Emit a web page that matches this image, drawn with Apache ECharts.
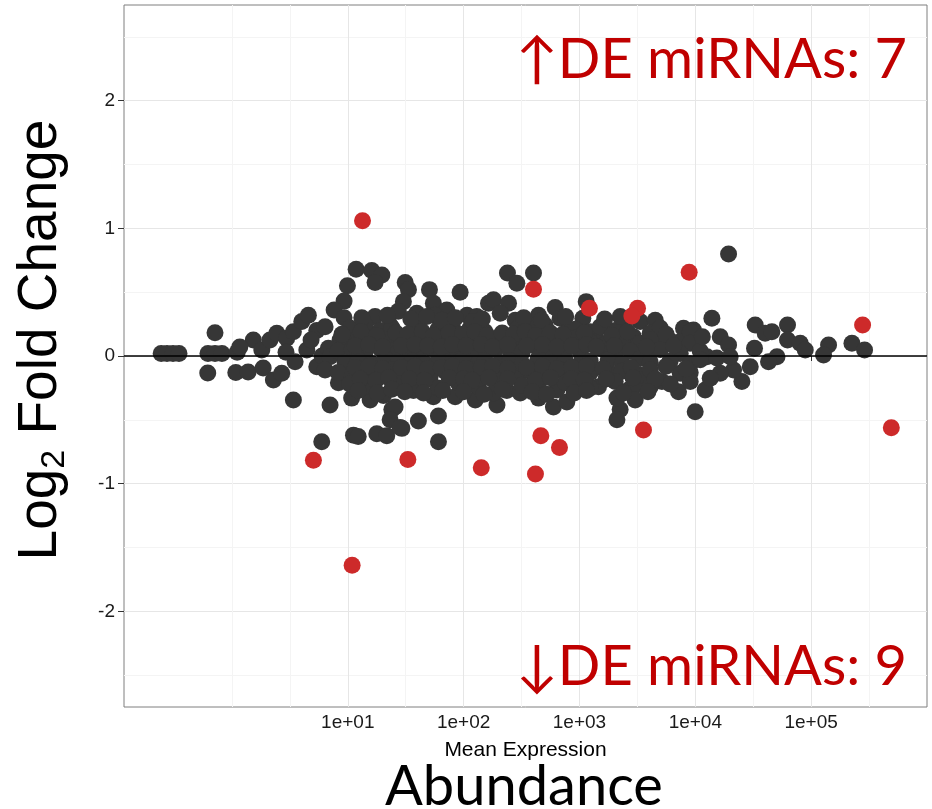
<!DOCTYPE html>
<html><head><meta charset="utf-8">
<script src="https://cdn.jsdelivr.net/npm/echarts@6/dist/echarts.min.js"></script>
<style>html,body{margin:0;padding:0;background:#fff}#c{width:932px;height:809px}</style>
</head><body><div id="c"></div>
<script>
// tick values
const xTicks = [10, 100, 1000, 10000, 100000];
const xMinorTicks = [1, 3.1623, 31.623, 316.23, 3162.3, 31623, 316228];
const yTicks = [-2, -1, 0, 1, 2];
const yMinorTicks = [-2.5, -1.5, -0.5, 0.5, 1.5, 2.5];

// [mean expression, log2 fold change] - non-significant miRNAs
const greyPoints = [
 [0.245,0.02],[0.275,0.02],[0.31,0.02],[0.349,0.02],
 [0.621,0.02],[0.714,0.02],[0.82,0.02],[1.11,0.03],
 [0.714,0.183],[0.618,-0.133],[1.08,-0.13],[1.38,-0.125],
 [1.53,0.125],[1.17,0.07],[1.81,0.047],[1.86,-0.094],[2.28,-0.188],[2.69,-0.136],
 [2.13,0.125],[2.44,0.178],[2.97,0.14],[3.39,0.19],[4.01,0.27],[4.57,0.32],[5.4,0.2],
 [3.51,-0.045],[4.43,0.047],[5.4,-0.084],[3.39,-0.345],[7.03,-0.384],[5.96,-0.672],
 [2.93,0.03],[4.82,0.125],[6.0,0.0],
 [11.8,0.68],[16.1,0.67],[19.7,0.635],[17.2,0.575],[9.93,0.55],[31.3,0.575],[33.4,0.52],[50.7,0.52],[93.3,0.5],[239,0.65],[288,0.57],
 [9.29,0.43],[7.62,0.36],[9.29,0.3],[30.2,0.426],[27.3,0.35],[39.4,0.335],[54.8,0.413],[71.6,0.36],[56.7,0.32],[107,0.32],[130,0.31],[164,0.413],[181,0.44],[244,0.413],[207,0.335],[279,0.28],[14.6,0.28],[17.2,0.31],[6.37,0.23],[23.2,0.24],[11.2,0.18],[8.58,0.125],[6.8,0.06],[7.03,-0.005],
 [6.37,-0.11],[8.3,-0.21],[10.8,-0.33],[15.6,-0.345],[20.3,-0.31],[24.0,-0.42],[25.6,-0.4],[23.2,-0.5],[29.3,-0.567],[40.7,-0.51],[60.6,-0.47],[36.9,-0.27],[54.8,-0.32],[84.5,-0.32],[126,-0.345],[194,-0.384],[181,-0.29],[236,-0.27],
 [11.2,-0.62],[12.3,-0.63],[17.8,-0.61],[21.7,-0.625],[28.3,-0.56],[60.6,-0.672],
 [401,0.65],[617,0.38],[1143,0.426],[1069,0.296],[443,0.32],[375,0.24],[681,0.296],[804,0.204],[1237,0.19],[1367,0.165],[1726,0.1],[2106,0.047],[2483,0.28],[3344,0.27],[4508,0.28],[4077,0.178],[5148,0.1],[2926,0.15],[2833,0.06],[7907,0.217],[7413,0.112],[9638,0.204],
 [288,-0.16],[308,-0.29],[443,-0.214],[443,-0.33],[638,-0.267],[596,-0.4],[778,-0.36],[980,-0.214],[1459,-0.24],[1841,-0.136],[2244,-0.42],[2106,-0.33],[2106,-0.5],[2649,-0.267],[3133,-0.227],[3027,-0.345],[5148,-0.2],[7413,-0.136],[7161,-0.28],[9977,-0.437],[12170,-0.267],
 [19360,0.8],[13900,0.296],[16410,0.15],[19360,0.086],[32890,0.243],[40090,0.178],[45810,0.19],[62520,0.243],[62520,0.125],[80500,0.1],[88900,0.047],[141300,0.086],[127900,0.008],[225000,0.1],[289000,0.047],[32430,0.06],[50700,-0.005],[42850,-0.045],[29800,-0.084],[25240,-0.2],[21380,-0.11],[16410,-0.136],[13450,-0.175],[12590,-0.005],[15350,-0.016],[20000,-0.005],
 [10.4,0.22],[14.1,0.24],[19.0,0.20],[24.1,0.22],[40.5,0.25],[60.2,0.21],[79.6,0.24],[114,0.22],[153,0.19],[296,0.22],[506,0.24],[918,0.21],[1510,0.23],[2033,0.20],[4977,0.22],[9036,0.19],
 [9.48,0.12],[12.3,0.14],[16.2,0.11],[21.0,0.13],[27.2,0.15],[35.9,0.12],[46.5,0.14],[60.2,0.11],[69.2,0.15],[89.6,0.12],[114,0.13],[133,0.16],[169,0.12],[228,0.14],[296,0.11],[375,0.13],[506,0.15],[681,0.12],[918,0.14],[1237,0.11],[2337,0.12],[3342,0.10],[4080,0.13],[6070,0.12],[9036,0.10],
 [8.25,0.04],[10.9,0.05],[14.1,0.03],[19.0,0.06],[24.1,0.04],[31.3,0.05],[40.5,0.02],[51.4,0.06],[69.2,0.04],[89.6,0.03],[114,0.06],[133,0.02],[187,0.05],[252,0.04],[320,0.03],[440,0.06],[581,0.02],[753,0.05],[1014,0.03],[1510,0.06],[1770,0.02],[2741,0.04],[4080,0.03],[4977,0.05],[7410,0.02],[11020,0.04],
 [9.48,-0.05],[12.3,-0.03],[16.2,-0.06],[21.0,-0.02],[27.2,-0.05],[35.9,-0.04],[46.5,-0.06],[60.2,-0.03],[79.6,-0.05],[100,-0.02],[133,-0.06],[153,-0.03],[207,-0.05],[252,-0.04],[320,-0.06],[440,-0.02],[581,-0.05],[753,-0.03],[1014,-0.06],[1237,-0.04],[1770,-0.03],[2337,-0.06],[3342,-0.02],[4080,-0.05],[6070,-0.04],[9036,-0.06],[11020,-0.03],
 [8.25,-0.13],[10.9,-0.15],[14.1,-0.12],[19.0,-0.14],[24.1,-0.11],[31.3,-0.15],[40.5,-0.13],[51.4,-0.16],[69.2,-0.12],[89.6,-0.14],[114,-0.11],[153,-0.15],[187,-0.13],[375,-0.12],[506,-0.14],[681,-0.11],[918,-0.15],[1237,-0.13],[2337,-0.12],[3342,-0.15],[4080,-0.11],[9036,-0.13],
 [10.4,-0.22],[14.1,-0.24],[27.2,-0.20],[40.5,-0.23],[60.2,-0.25],[89.6,-0.21],[133,-0.24],[207,-0.19],[320,-0.23],[753,-0.21],[1237,-0.25],[2033,-0.20],[4080,-0.24],[6070,-0.22],[9036,-0.20],
 [13.2,0.30],[22,0.32],[35,0.29],[48,0.31],[65,0.28],[85,0.30],[120,0.27],[145,0.29],[330,0.30],[470,0.28],[760,0.31],[1650,0.29],[2250,0.31],
 [8.9,0.17],[13,0.19],[17.8,0.16],[26,0.18],[33,0.17],[44,0.19],[55,0.16],[75,0.18],[98,0.17],[125,0.19],[160,0.16],[215,0.18],[270,0.17],[340,0.19],[420,0.16],[560,0.18],[720,0.17],[1100,0.18],[1900,0.16],[2600,0.19],[5600,0.17],[11500,0.15],
 [11.6,0.08],[15.2,0.09],[20,0.07],[29,0.08],[38,0.09],[49,0.08],[64,0.07],[80,0.09],[105,0.08],[142,0.09],[178,0.07],[240,0.09],[350,0.08],[480,0.09],[640,0.07],[860,0.08],[1150,0.09],[1400,0.07],[2000,0.08],[3800,0.07],[6500,0.08],
 [11.6,-0.09],[15.2,-0.08],[20,-0.10],[29,-0.09],[38,-0.08],[49,-0.10],[64,-0.09],[80,-0.08],[105,-0.10],[142,-0.09],[178,-0.08],[240,-0.10],[350,-0.09],[480,-0.08],[640,-0.10],[860,-0.09],[1150,-0.08],[1600,-0.10],[2800,-0.09],[5600,-0.08],[8300,-0.10],
 [12.8,-0.18],[17.5,-0.19],[22.5,-0.17],[34,-0.18],[46,-0.19],[75,-0.17],[100,-0.18],[118,-0.19],[165,-0.17],[240,-0.18],[420,-0.19],[560,-0.17],[850,-0.18],[1100,-0.19],[1700,-0.18],[2900,-0.17],[4500,-0.18],
 [12.3,-0.27],[18,-0.29],[24,-0.26],[31,-0.28],[45,-0.29],[66,-0.27],[100,-0.28],[150,-0.30],[215,-0.26],[390,-0.28],[520,-0.30],[900,-0.29],[1150,-0.27],[2400,-0.29],[3900,-0.28]
];

// significant up / down
const upPoints = [[13.4,1.06],[401,0.523],[1219,0.374],[3170,0.374],[2833,0.314],[8850,0.656],[278000,0.243]];
const downPoints = [[5.05,-0.816],[10.9,-1.64],[33,-0.81],[142,-0.876],[464,-0.625],[672,-0.716],[417,-0.925],[3570,-0.58],[492000,-0.562]];

const upLabel = '\u2191DE miRNAs: 7';
const downLabel = '\u2193DE miRNAs: 9';
const xTitle = 'Mean Expression';
const bigXTitle = 'Abundance';

const chart = echarts.init(document.getElementById('c'), null, {renderer: 'canvas'});
const fmtX = v => '1e+' + String(Math.round(Math.log10(v))).padStart(2, '0');
const GRID = {left: 124, right: 5, top: 5, bottom: 102};
const option = {
  animation: false,
  backgroundColor: '#ffffff',
  grid: Object.assign({show: true, borderColor: '#7f7f7f', borderWidth: 1, backgroundColor: 'rgba(0,0,0,0)'}, GRID),
  xAxis: [
    {type: 'log', logBase: 10, min: 0.117, max: 1e6, gridIndex: 0,
     axisLine: {show: false},
     axisTick: {show: true, customValues: xTicks, length: 5, lineStyle: {color: '#333', width: 1}},
     axisLabel: {show: true, customValues: xTicks, formatter: fmtX, fontSize: 19, color: '#1a1a1a', fontFamily: 'Liberation Sans', margin: 6},
     splitLine: {show: true, lineStyle: {color: '#e6e6e6', width: 1}},
     name: xTitle, nameLocation: 'middle', nameGap: 33,
     nameTextStyle: {fontSize: 21, color: '#000', fontFamily: 'Liberation Sans'}},
    {type: 'log', logBase: 10, min: 0.117, max: 1e6, gridIndex: 0,
     axisLine: {show: false}, axisTick: {show: false, customValues: xMinorTicks},
     axisLabel: {show: false, customValues: xMinorTicks},
     splitLine: {show: true, lineStyle: {color: '#f4f4f4', width: 1}}}
  ],
  yAxis: [
    {type: 'value', min: -2.75, max: 2.75, gridIndex: 0,
     axisLine: {show: false},
     axisTick: {show: true, customValues: yTicks, length: 6, lineStyle: {color: '#333', width: 1}},
     axisLabel: {show: true, customValues: yTicks, fontSize: 19, color: '#1a1a1a', fontFamily: 'Liberation Sans', margin: 9},
     splitLine: {show: true, lineStyle: {color: '#e6e6e6', width: 1}}},
    {type: 'value', min: -2.75, max: 2.75, gridIndex: 0, position: 'left',
     axisLine: {show: false}, axisTick: {show: false, customValues: yMinorTicks},
     axisLabel: {show: false, customValues: yMinorTicks},
     splitLine: {show: true, lineStyle: {color: '#f4f4f4', width: 1}}}
  ],
  series: [
    {type: 'scatter', xAxisIndex: 0, yAxisIndex: 0, data: greyPoints, symbolSize: 17,
     itemStyle: {color: '#363636', opacity: 1}, silent: true,
     markLine: {silent: true, symbol: 'none', z: 5, label: {show: false},
       lineStyle: {color: '#000', width: 1.5, type: 'solid'}, data: [{yAxis: 0}]}},
    {type: 'scatter', xAxisIndex: 0, yAxisIndex: 0, data: upPoints, symbolSize: 17,
     itemStyle: {color: '#cd2a2a', opacity: 1}, silent: true, z: 3},
    {type: 'scatter', xAxisIndex: 0, yAxisIndex: 0, data: downPoints, symbolSize: 17,
     itemStyle: {color: '#cd2a2a', opacity: 1}, silent: true, z: 3}
  ],
  graphic: [
    {type: 'text', x: 41, y: 340, rotation: Math.PI / 2, silent: true,
     style: {text: '{a|Log}{s|2}{a| Fold Change}', align: 'center', verticalAlign: 'middle',
       rich: {a: {fontSize: 55, fontFamily: 'Liberation Sans', fill: '#000', lineHeight: 62, verticalAlign: 'middle'},
              s: {fontSize: 34, fontFamily: 'Liberation Sans', fill: '#000', lineHeight: 29, verticalAlign: 'bottom'}}}},
    {type: 'text', x: 524, y: 787, silent: true,
     style: {text: bigXTitle, fontSize: 56, fontFamily: 'Lato', fill: '#000', align: 'center', verticalAlign: 'middle'}},
    {type: 'text', x: 907, y: 60, silent: true, z: 10,
     style: {text: upLabel, fontSize: 56, fontFamily: 'Lato', fill: '#c00000', align: 'right', verticalAlign: 'middle'}},
    {type: 'text', x: 907, y: 667, silent: true, z: 10,
     style: {text: downLabel, fontSize: 56, fontFamily: 'Lato', fill: '#c00000', align: 'right', verticalAlign: 'middle'}}
  ]
};
chart.setOption(option);
</script></body></html>
